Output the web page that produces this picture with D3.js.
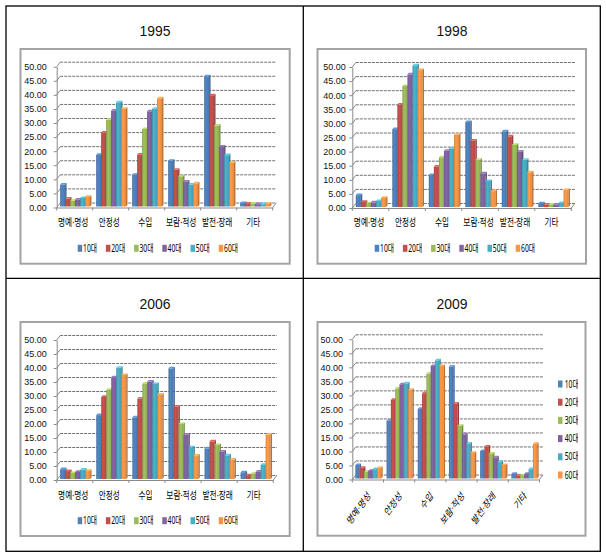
<!DOCTYPE html>
<html><head><meta charset="utf-8">
<script src="https://cdn.jsdelivr.net/npm/d3@7"></script>
<style>body{margin:0;background:#fff} svg{display:block}</style>
</head><body>
<svg id="c" width="606" height="560"></svg>
<script>
// ---- data ----
const categories = ["명예·명성", "안정성", "수입", "보람·적성", "발전·장래", "기타"];
const ageGroups = ["10대", "20대", "30대", "40대", "50대", "60대"];
const colors = ["#4F81BD", "#C0504D", "#9BBB59", "#8064A2", "#4BACC6", "#F79646"];
const yTickValues = [0, 5, 10, 15, 20, 25, 30, 35, 40, 45, 50];
const years = ["1995", "1998", "2006", "2009"];

// values per age group, across categories
const values1995 = [
  [7.6, 18.1, 11.0, 16.0, 46.0, 1.0],
  [2.6, 26.0, 18.2, 12.8, 39.3, 0.8],
  [1.8, 30.6, 27.3, 10.5, 28.5, 0.7],
  [2.2, 33.8, 33.6, 8.6, 21.1, 0.6],
  [2.8, 36.8, 34.5, 7.6, 18.0, 0.6],
  [3.2, 34.5, 38.2, 8.0, 15.4, 0.7]
];
const values1998 = [
  [4.0, 27.4, 11.1, 29.9, 26.6, 1.1],
  [1.6, 36.1, 14.1, 23.3, 24.8, 0.6],
  [1.1, 42.7, 17.4, 16.5, 21.8, 0.6],
  [1.4, 46.8, 19.7, 11.7, 19.4, 0.6],
  [1.9, 50.0, 20.6, 9.0, 16.5, 1.2],
  [3.0, 48.3, 25.4, 5.4, 12.1, 5.8]
];
const values2006 = [
  [3.3, 22.6, 21.8, 39.3, 10.7, 2.2],
  [2.6, 29.1, 28.5, 25.6, 13.2, 1.1],
  [1.9, 31.6, 33.9, 19.4, 11.9, 1.6],
  [2.3, 36.1, 34.6, 15.6, 9.6, 2.4],
  [3.1, 39.5, 33.7, 11.1, 8.2, 4.8],
  [2.7, 36.9, 29.9, 8.1, 6.7, 15.6]
];
const values2009 = [
  [4.6, 20.4, 24.6, 39.7, 9.6, 1.4],
  [3.6, 27.8, 30.2, 26.5, 11.2, 0.8],
  [2.2, 31.9, 37.2, 18.6, 8.7, 0.9],
  [2.5, 33.4, 39.9, 15.5, 7.3, 1.4],
  [3.1, 33.7, 41.9, 12.2, 5.6, 3.1],
  [3.6, 31.4, 39.9, 8.9, 4.6, 12.1]
];

// ---- layout ----
const panels = [
  {year: years[0], data: values1995, gx0: 20.5, gy0: 49, gx1: 289.7, gy1: 263.7, tx: 155, ty: 36,
   axisX: 56.7, xRight: 272.7, yF0: 207.5, yF50: 66.7, labelEnd: 46.7, catPad: 11,
   legend: "h", lx: 77.7, ly: 248.3},
  {year: years[1], data: values1998, gx0: 317.5, gy0: 49, gx1: 586, gy1: 263.7, tx: 452, ty: 36,
   axisX: 352.3, xRight: 571.3, yF0: 208, yF50: 67, labelEnd: 345.7, catPad: 10.5,
   legend: "h", lx: 374.7, ly: 248.3},
  {year: years[2], data: values2006, gx0: 20.5, gy0: 322, gx1: 289.7, gy1: 536, tx: 155, ty: 308.5,
   axisX: 56.7, xRight: 273.3, yF0: 480, yF50: 340, labelEnd: 46.7, catPad: 12,
   legend: "h", lx: 77.7, ly: 520.7},
  {year: years[3], data: values2009, gx0: 317.5, gy0: 322, gx1: 585.5, gy1: 535.7, tx: 452, ty: 308.5,
   axisX: 352.3, xRight: 539.5, yF0: 479.5, yF50: 339.3, labelEnd: 343, catPad: 0,
   legend: "v", lx: 558, ly: 384, clipX: 578}
];

const DX = 3.5, DY = -4.5;      // back-wall offset
const CD = 1.4, CH = 1.6;       // bar depth offset
const HFONT = "'Noto Sans', 'Noto Sans CJK KR', sans-serif";
const NFONT = "'Liberation Sans', Arial, sans-serif";

const svg = d3.select("#c");
const defs = svg.append("defs");
colors.forEach((c, i) => {
  const col = d3.color(c);
  const lg = defs.append("linearGradient").attr("id", "bg" + i)
    .attr("x1", 0).attr("x2", 1).attr("y1", 0).attr("y2", 0);
  lg.append("stop").attr("offset", 0).attr("stop-color", col.darker(0.45));
  lg.append("stop").attr("offset", 0.35).attr("stop-color", col.brighter(0.12));
  lg.append("stop").attr("offset", 1).attr("stop-color", col.darker(0.25));
});

function hangulLen(s) {
  let n = 0;
  for (const ch of s) n += (ch === "·") ? 2.4 : (/[0-9]/.test(ch) ? 3.6 : 7.0);
  return n;
}

panels.forEach((p, pi) => {
  const g = svg.append("g");
  g.append("rect").attr("x", p.gx0).attr("y", p.gy0)
    .attr("width", p.gx1 - p.gx0).attr("height", p.gy1 - p.gy0)
    .attr("fill", "#fff").attr("stroke", "#a3a3a3").attr("stroke-width", 2);

  g.append("text").attr("x", p.tx).attr("y", p.ty).attr("text-anchor", "middle")
    .attr("font-family", NFONT).attr("font-size", 15).attr("fill", "#111")
    .attr("textLength", 31).attr("lengthAdjust", "spacingAndGlyphs").text(p.year);

  const y = d3.scaleLinear().domain([0, 50]).range([p.yF0, p.yF50]);
  const x0 = d3.scaleBand().domain(categories).range([p.axisX, p.xRight]);
  const w = x0.bandwidth();
  const grp = w * 0.83;
  const x1 = d3.scaleBand().domain(ageGroups).range([(w - grp) / 2 + 0.4, (w + grp) / 2 + 0.4]);

  // gridlines on back wall
  const grid = g.append("g");
  yTickValues.forEach(v => {
    grid.append("line").attr("x1", p.axisX + DX).attr("x2", p.xRight + DX)
      .attr("y1", y(v) + DY).attr("y2", y(v) + DY)
      .attr("stroke", "#707070").attr("stroke-width", 1).attr("stroke-dasharray", "3,1");
    grid.append("line").attr("x1", p.axisX).attr("x2", p.axisX + DX)
      .attr("y1", y(v)).attr("y2", y(v) + DY).attr("stroke", "#8a8a8a");
  });
  grid.append("line").attr("x1", p.xRight).attr("x2", p.xRight + DX)
    .attr("y1", y(0)).attr("y2", y(0) + DY).attr("stroke", "#8a8a8a");

  // y axis
  const ya = g.append("g").attr("transform", `translate(${p.axisX},0)`)
    .call(d3.axisLeft(y).tickValues(yTickValues).tickFormat(d3.format(".2f"))
      .tickSize(3).tickSizeOuter(0).tickPadding(p.axisX - p.labelEnd - 3));
  ya.select(".domain").attr("stroke", "#8a8a8a");
  ya.selectAll(".tick line").attr("stroke", "#8a8a8a");
  ya.selectAll("text").attr("font-family", NFONT).attr("font-size", 9).attr("fill", "#111");

  // x axis (front floor)
  const xa = g.append("g").attr("transform", `translate(0,${p.yF0})`)
    .call(d3.axisBottom(x0).tickSize(0).tickPadding(p.catPad));
  xa.select(".domain").attr("stroke", "#8a8a8a");
  x0.domain().forEach((c) => {
    const bx = x0(c);
    xa.append("line").attr("x1", bx).attr("x2", bx).attr("y1", 0).attr("y2", 3).attr("stroke", "#8a8a8a");
  });
  xa.append("line").attr("x1", p.xRight).attr("x2", p.xRight).attr("y1", 0).attr("y2", 3).attr("stroke", "#8a8a8a");
  const ct = xa.selectAll(".tick text").attr("font-family", HFONT).attr("font-size", 10).attr("fill", "#000");
  if (p.legend === "h") {
    ct.attr("x", -1.5).attr("textLength", d => hangulLen(d)).attr("lengthAdjust", "spacingAndGlyphs");
  } else {
    ct.attr("x", null).attr("y", null).attr("dy", "0.35em").attr("text-anchor", "end")
      .attr("font-size", 10.5)
      .attr("transform", "translate(1.5,14) scale(0.72,1) rotate(-45)");
  }

  // bars
  const bars = g.append("g");
  categories.forEach((c, ci) => {
    ageGroups.forEach((a, si) => {
      const v = p.data[si][ci];
      const bx = x0(c) + x1(a);
      const bw = x1.bandwidth();
      const yTop = y(v) - 1.6;
      const yBot = y(0) - 1;
      const col = d3.color(colors[si]);
      bars.append("rect").attr("x", bx).attr("y", yTop).attr("width", bw)
        .attr("height", Math.max(0, yBot - yTop)).attr("fill", `url(#bg${si})`);
      bars.append("polygon").attr("points",
        `${bx},${yTop} ${bx + CD},${yTop - CH} ${bx + bw + CD},${yTop - CH} ${bx + bw},${yTop}`)
        .attr("fill", col.brighter(0.5));
      bars.append("polygon").attr("points",
        `${bx + bw},${yTop} ${bx + bw + CD},${yTop - CH} ${bx + bw + CD},${yBot - CH} ${bx + bw},${yBot}`)
        .attr("fill", col.darker(0.8));
    });
  });

  // legend
  const lg = g.append("g");
  if (p.legend === "h") {
    ageGroups.forEach((a, i) => {
      const lx = p.lx + i * 28.2;
      lg.append("rect").attr("x", lx).attr("y", p.ly - 3.5).attr("width", 4.5).attr("height", 7)
        .attr("fill", colors[i]);
      lg.append("text").attr("x", lx + 5.3).attr("y", p.ly + 3.6)
        .attr("font-family", HFONT).attr("font-size", 10).attr("fill", "#000")
        .attr("textLength", 14).attr("lengthAdjust", "spacingAndGlyphs").text(a);
    });
  } else {
    const cp = defs.append("clipPath").attr("id", "lclip" + pi);
    cp.append("rect").attr("x", p.lx - 2).attr("y", p.ly - 12).attr("width", p.clipX - p.lx + 2).attr("height", 120);
    lg.attr("clip-path", `url(#lclip${pi})`);
    ageGroups.forEach((a, i) => {
      const ly = p.ly + i * 18.2;
      lg.append("rect").attr("x", p.lx).attr("y", ly - 3.5).attr("width", 4.5).attr("height", 7)
        .attr("fill", colors[i]);
      lg.append("text").attr("x", p.lx + 6.7).attr("y", ly + 3.6)
        .attr("font-family", HFONT).attr("font-size", 10).attr("fill", "#000")
        .attr("textLength", 14).attr("lengthAdjust", "spacingAndGlyphs").text(a);
    });
  }
});

// table frame
const frame = svg.append("g").attr("stroke", "#000").attr("stroke-width", 1.3).attr("fill", "none");
frame.append("rect").attr("x", 6).attr("y", 6).attr("width", 594.3).attr("height", 545.3);
frame.append("line").attr("x1", 303.3).attr("x2", 303.3).attr("y1", 6).attr("y2", 551.3);
frame.append("line").attr("x1", 6).attr("x2", 600.3).attr("y1", 278.3).attr("y2", 278.3);
</script>
</body></html>
